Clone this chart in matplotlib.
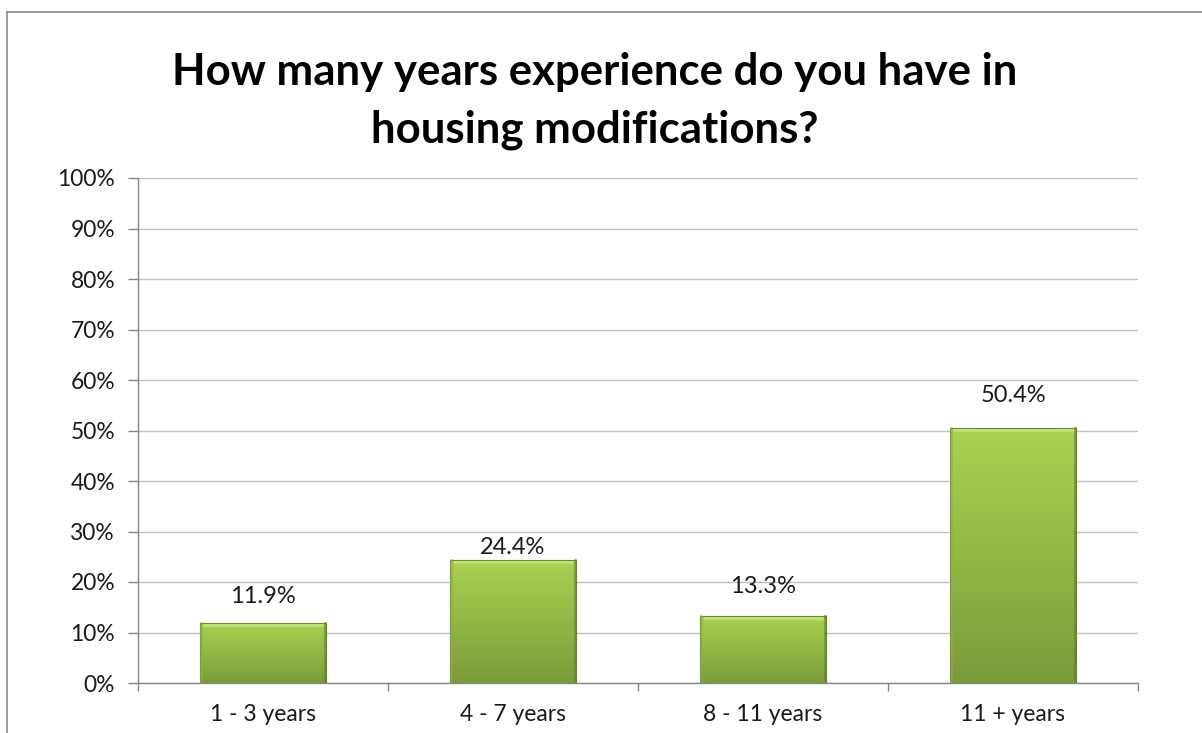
"""
Bar chart of years of experience in housing modifications
"""

### Import modules
import numpy as np
import matplotlib
matplotlib.use('Agg')
import matplotlib.pyplot as plt
from matplotlib.colors import LinearSegmentedColormap
from matplotlib.lines import Line2D

### Data
categories = ['1 - 3 years', '4 - 7 years', '8 - 11 years', '11 + years']
percent = [11.9, 24.4, 13.3, 50.4]
yticks = np.arange(0, 101, 10)

### Fonts
plt.rcParams['font.family'] = ['Lato', 'DejaVu Sans']

fig = plt.figure(figsize=(12.02, 7.33), dpi=100)
ax = fig.add_axes([138/1202, 1 - 683/733, 1000/1202, 505/733])

x = np.arange(len(categories))
bars = ax.bar(x, percent, width=0.505, color='none', edgecolor='#6b8a2e',
              linewidth=0.8, zorder=3)

### Vertical green gradient inside each bar
green = LinearSegmentedColormap.from_list('grn', ['#7a9a3a', '#93b846', '#a9d152'])
grad = np.linspace(0, 1, 256).reshape(-1, 1)
for b in bars:
    bx, by = b.get_x(), b.get_y()
    bw, bh = b.get_width(), b.get_height()
    im = ax.imshow(grad, extent=[bx, bx + bw, by, by + bh], origin='lower',
                   aspect='auto', cmap=green, zorder=2.5, interpolation='bilinear')
    im.set_clip_path(b)
    # light bevel along the top and darker shading along the sides
    ax.plot([bx + 0.012, bx + bw - 0.012], [by + bh - 0.35, by + bh - 0.35],
            color='#c4e07c', linewidth=2.0, zorder=3.2, solid_capstyle='butt')
    ax.plot([bx + bw - 0.006, bx + bw - 0.006], [by, by + bh],
            color='#5f7d28', linewidth=2.0, zorder=3.2, alpha=0.6)
    ax.plot([bx + 0.006, bx + 0.006], [by, by + bh],
            color='#8cae44', linewidth=2.0, zorder=3.2, alpha=0.6)

### Value labels above bars (baseline gap in pixels)
label_gaps = [20, 6, 23, 26]
for xi, val, gap in zip(x, percent, label_gaps):
    ax.annotate('%.1f%%' % val, (xi, val), xytext=(0, gap * 0.72),
                textcoords='offset points', ha='center', va='baseline',
                fontsize=17, color='#1a1a1a')

### Axes styling
ax.set_xlim(-0.5, len(categories) - 0.5)
ax.set_ylim(0, 100)
ax.set_yticks(yticks)
ax.set_yticklabels(['%d%%' % t for t in yticks], fontsize=16.4, color='#1a1a1a')
ax.set_xticks(x)
ax.set_xticklabels(categories, fontsize=16.5, color='#1a1a1a')
ax.set_xticks(np.arange(-0.5, len(categories), 1.0), minor=True)
ax.tick_params(axis='x', which='major', length=0, pad=15)
ax.tick_params(axis='x', which='minor', length=6, width=1, color='#868686',
               direction='out')
ax.tick_params(axis='y', length=7, width=1, color='#868686', direction='out', pad=9.5)

ax.yaxis.grid(True, color='#c0c0c0', linewidth=1.0, zorder=0)
ax.set_axisbelow(True)
for side in ['top', 'right']:
    ax.spines[side].set_visible(False)
ax.spines['left'].set_color('#868686')
ax.spines['bottom'].set_color('#868686')
ax.spines['left'].set_linewidth(1.0)
ax.spines['bottom'].set_linewidth(1.0)

### Title
fig.text(595/1202, 1 - 85/733, 'How many years experience do you have in',
         ha='center', va='baseline', fontsize=31.5, fontweight='bold')
fig.text(595/1202, 1 - 142/733, 'housing modifications?',
         ha='center', va='baseline', fontsize=31.5, fontweight='bold')

### Outer chart frame
fig.add_artist(Line2D([7/1202, 7/1202], [0, 1 - 12/733], color='#8c8c8c',
                      linewidth=1.2, transform=fig.transFigure))
fig.add_artist(Line2D([7/1202, 1], [1 - 12/733, 1 - 12/733], color='#8c8c8c',
                      linewidth=1.2, transform=fig.transFigure))

plt.savefig('out.png', dpi=100, facecolor='white')
